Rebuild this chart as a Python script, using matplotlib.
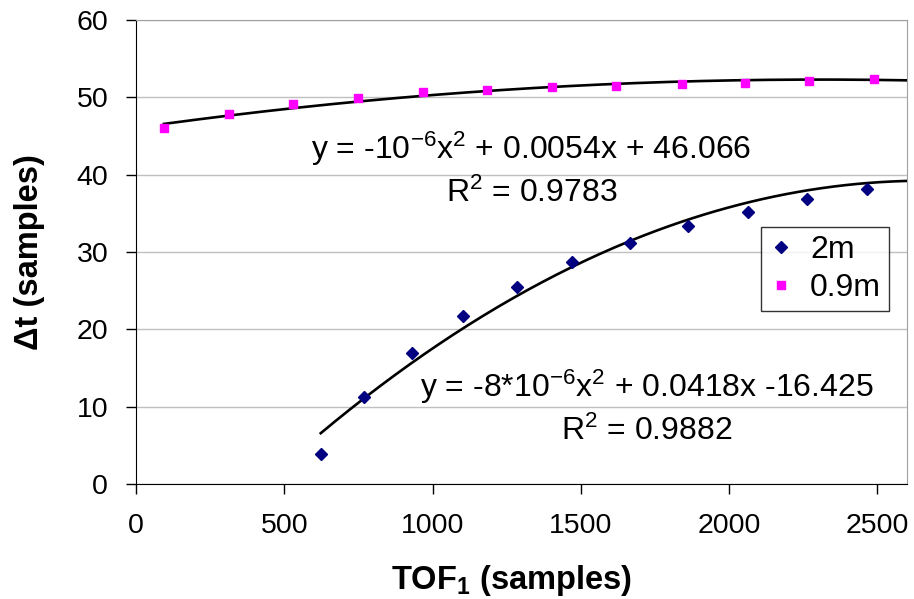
import numpy as np
import matplotlib.pyplot as plt

plt.rcParams['font.family'] = ['Liberation Sans', 'DejaVu Sans']
plt.rcParams['mathtext.fontset'] = 'custom'
plt.rcParams['mathtext.rm'] = 'Liberation Sans'
plt.rcParams['mathtext.it'] = 'Liberation Sans:italic'
plt.rcParams['mathtext.bf'] = 'Liberation Sans:bold'

# 2m series (navy diamonds)
tof_2m = [623, 768, 930, 1103, 1284, 1470, 1666, 1861, 2063, 2263, 2464]
dt_2m = [3.9, 11.3, 17.0, 21.7, 25.5, 28.7, 31.2, 33.4, 35.2, 36.8, 38.2]

# 0.9m series (magenta squares)
tof_09m = [94, 313, 529, 748, 967, 1183, 1402, 1617, 1840, 2055, 2271, 2490]
dt_09m = [46.0, 47.8, 49.1, 49.9, 50.7, 51.0, 51.4, 51.5, 51.7, 51.9, 52.1, 52.4]

# polynomial trendline coefficients (a, b, c)
trend_2m = [-7.85e-6, 0.0418, -16.425]
trend_09m = [-1.17e-6, 0.0054, 46.066]

eq_09m = ['y = -10$^{-6}$x$^{2}$ + 0.0054x + 46.066', 'R$^{2}$ = 0.9783']
eq_2m = ['y = -8*10$^{-6}$x$^{2}$ + 0.0418x -16.425', 'R$^{2}$ = 0.9882']

x_max = 2600

fig = plt.figure(figsize=(9.14, 5.99), dpi=100)
ax = fig.add_subplot(111)
fig.subplots_adjust(left=136 / 914, right=907 / 914, top=1 - 20 / 599, bottom=1 - 484 / 599)

# trendlines run from the first point of each series to the right edge
for xs, coef in [(tof_09m, trend_09m), (tof_2m, trend_2m)]:
    xx = np.linspace(xs[0], x_max, 200)
    ax.plot(xx, np.polyval(coef, xx), color='black', lw=1.9, zorder=3)

ax.plot(tof_2m, dt_2m, 'D', color='#000080', ms=6, ls='none', label='2m', zorder=4)
ax.plot(tof_09m, dt_09m, 's', color='#ff00ff', ms=6.3, ls='none', label='0.9m', zorder=4)

ax.text(1334, 43.4, eq_09m[0], fontsize=23, ha='center', va='center')
ax.text(1334, 37.6, eq_09m[1], fontsize=23, ha='center', va='center')
ax.text(1722, 12.55, eq_2m[0], fontsize=23, ha='center', va='center')
ax.text(1722, 6.75, eq_2m[1], fontsize=23, ha='center', va='center')

ax.set_xlim(0, x_max)
ax.set_ylim(0, 60)
ax.set_xticks(np.arange(0, 2501, 500))
ax.set_yticks(np.arange(0, 61, 10))
ax.yaxis.grid(True, color='#c0c0c0', lw=1)
ax.set_axisbelow(True)

for side in ['top', 'right']:
    ax.spines[side].set_color('#a0a0a0')
for side in ['left', 'bottom']:
    ax.spines[side].set_color('black')
ax.tick_params(axis='both', direction='out', length=7, width=1, labelsize=20.5)
ax.tick_params(axis='y', pad=13)
ax.tick_params(axis='x', pad=14)

ax.set_xlabel('TOF$_\\mathbf{1}$ (samples)', fontsize=23.5, fontweight='bold', labelpad=17)
ax.xaxis.label.set_x(0.487)
ax.set_ylabel('Δt (samples)', fontsize=23.5, fontweight='bold', labelpad=23)

leg = ax.legend(loc='upper right', bbox_to_anchor=(0.9767, 0.554), borderaxespad=0,
                fontsize=23, frameon=True, fancybox=False, handlelength=0.8,
                handletextpad=0.5, borderpad=0.25, labelspacing=0.25)
leg.get_frame().set_edgecolor('black')
leg.get_frame().set_linewidth(1)

fig.savefig('out.png', dpi=100)
